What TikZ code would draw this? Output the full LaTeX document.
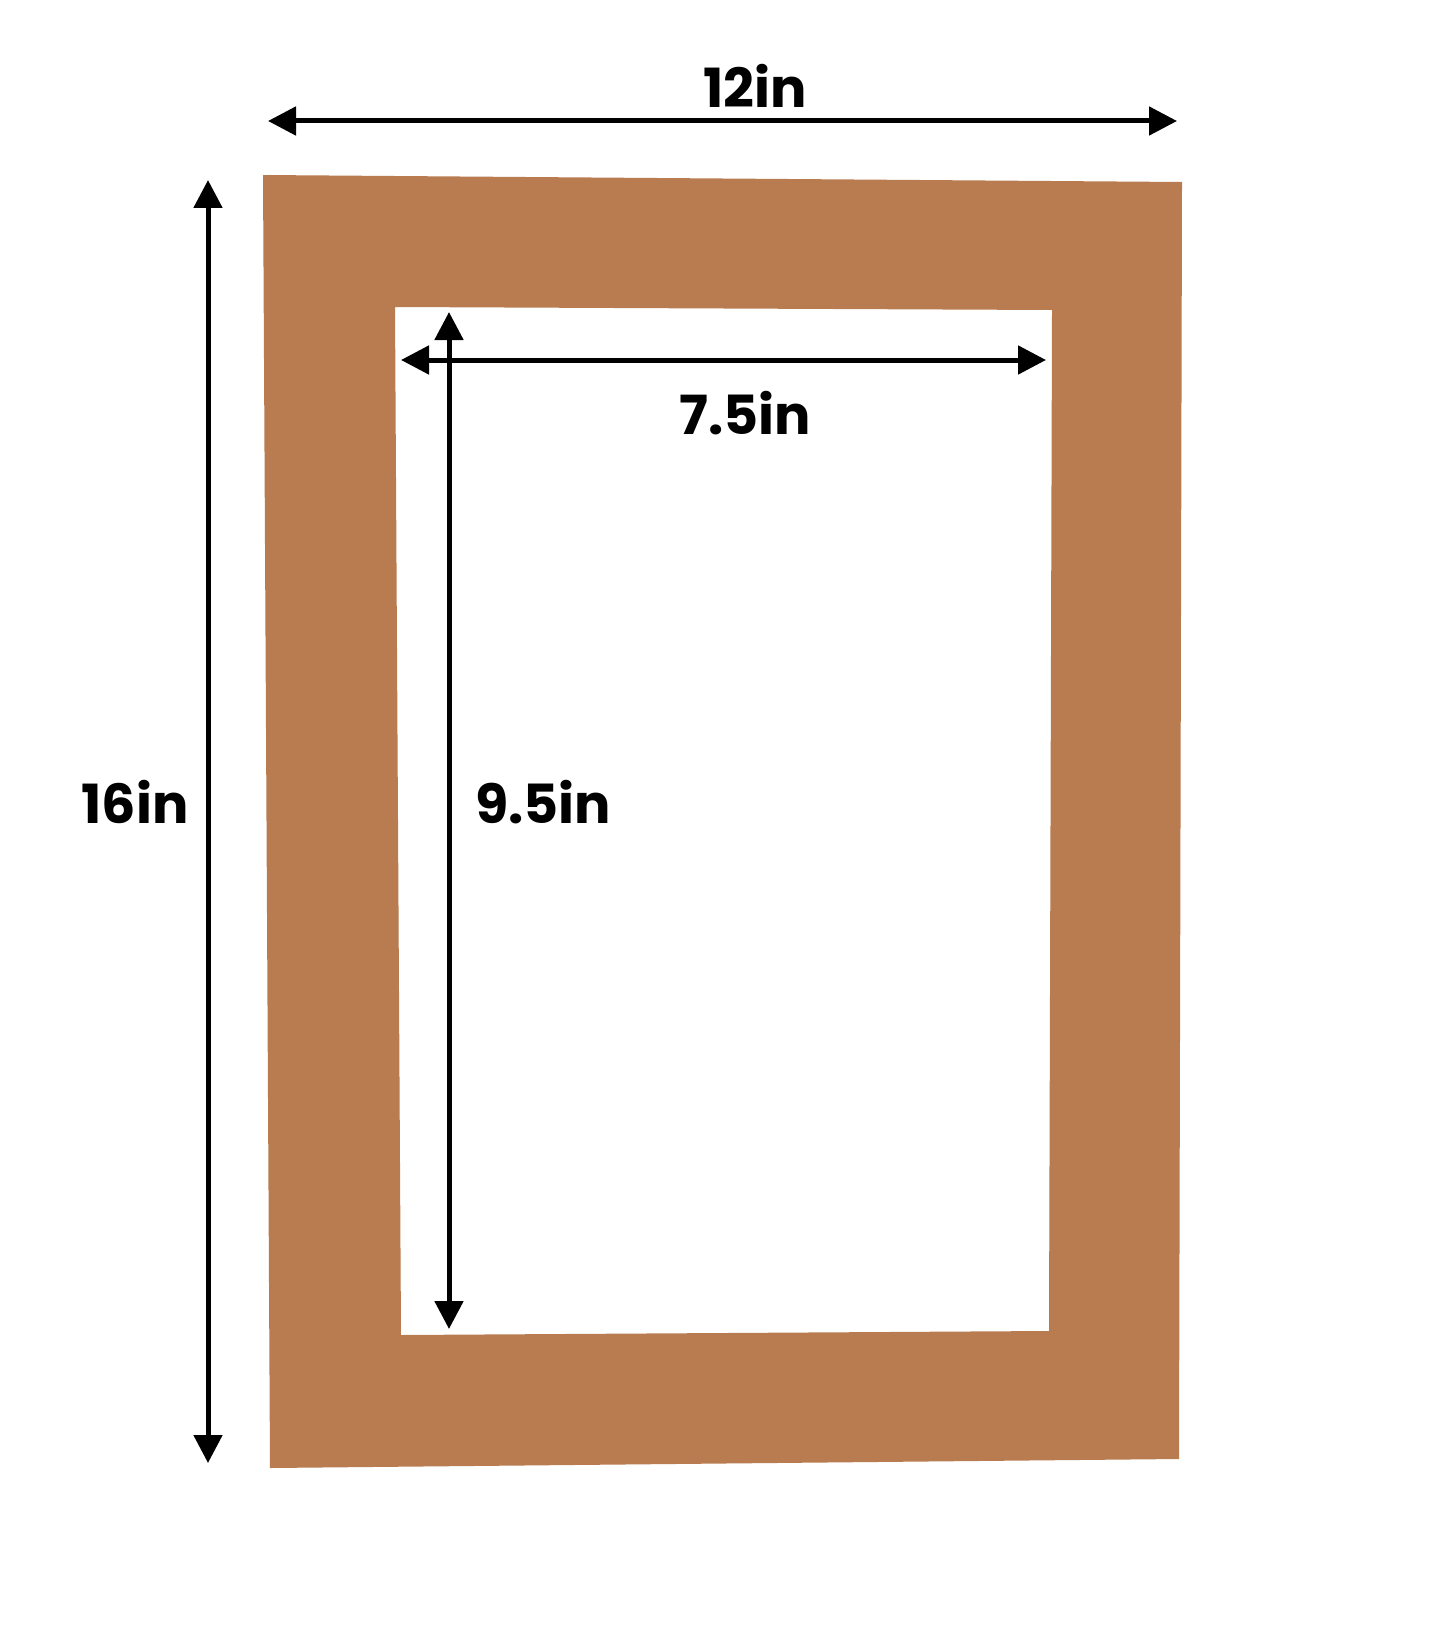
\documentclass[tikz,border=0pt]{standalone}
\usepackage{fontspec}
\setmainfont{Poppins}
\usetikzlibrary{arrows.meta}
\definecolor{kraft}{RGB}{185,124,80}
\tikzset{
  dim/.style={line width=5pt, {Triangle[length=28pt,width=28pt]}-{Triangle[length=28pt,width=28pt]}},
  lbl/.style={font=\bfseries\fontsize{54}{60}\selectfont, text=black, inner sep=0pt}
}
\begin{document}
\begin{tikzpicture}[x=1pt,y=-1pt]
\useasboundingbox (0,0) rectangle (1445,1645);
\fill[white] (0,0) rectangle (1445,1645);
% mat board
\fill[kraft, even odd rule]
  (263,175) -- (1182,182) -- (1179,1459) -- (270,1468) -- cycle
  (395,307) -- (1052,310) -- (1049,1331) -- (401,1335) -- cycle;
% coordinates
\coordinate (tL) at (268,121);
\coordinate (tR) at (1177,121);
\coordinate (lT) at (208,180);
\coordinate (lB) at (208,1463);
\coordinate (iL) at (401,360);
\coordinate (iR) at (1046,360);
\coordinate (vT) at (449,312);
\coordinate (vB) at (449,1329);
\draw[dim] (tL) -- (tR);
\draw[dim] (lT) -- (lB);
\draw[dim] (vT) -- (vB);
\draw[dim] (iL) -- (iR);
\node[lbl] (w) at (755,86) {12in};
\node[lbl] (h) at (135,802) {16in};
\node[lbl] (iw) at (745,413) {7.5in};
\node[lbl] (ih) at (543,802) {9.5in};
\end{tikzpicture}
\end{document}
